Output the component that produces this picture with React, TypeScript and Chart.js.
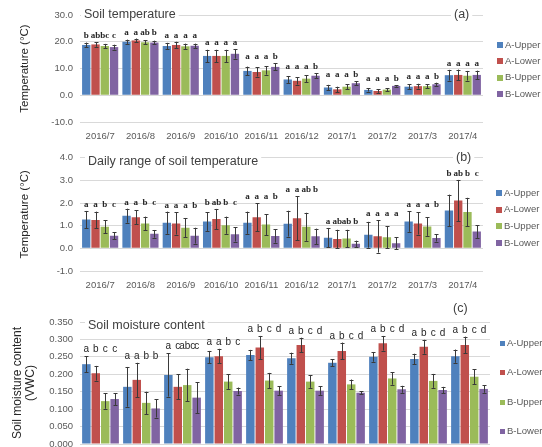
import React, { useEffect, useRef } from 'react';
import { Chart, registerables } from 'chart.js';
Chart.register(...registerables);

const categories = ['2016/7', '2016/8', '2016/9', '2016/10', '2016/11', '2016/12', '2017/1', '2017/2', '2017/3', '2017/4'];
const seriesNames = ['A-Upper', 'A-Lower', 'B-Upper', 'B-Lower'];
const seriesColors = ['#4F81BD', '#C0504D', '#9BBB59', '#8064A2'];

// (a) Soil temperature
const tempAUpper = [18.8, 20.0, 18.4, 14.7, 9.1, 5.9, 2.9, 2.0, 3.2, 7.5];
const tempALower = [19.0, 20.5, 18.8, 14.7, 8.7, 5.4, 2.2, 1.6, 3.4, 7.6];
const tempBUpper = [18.4, 19.8, 18.3, 14.7, 9.3, 6.2, 3.2, 2.1, 3.4, 7.3];
const tempBLower = [18.0, 19.7, 18.5, 15.5, 10.6, 7.3, 4.5, 3.5, 4.1, 7.6];
const tempErrAUpper = [0.9, 0.8, 1.2, 2.3, 1.6, 1.3, 1.0, 0.6, 0.9, 2.0];
const tempErrALower = [0.9, 0.7, 1.2, 2.3, 1.7, 1.4, 1.0, 0.7, 0.9, 2.0];
const tempErrBUpper = [0.8, 0.8, 1.0, 2.3, 1.6, 1.3, 1.0, 0.6, 0.8, 1.8];
const tempErrBLower = [0.9, 0.7, 0.8, 1.8, 1.3, 1.0, 0.7, 0.3, 0.6, 1.6];
const tempLetAUpper = ['b', 'a', 'a', 'a', 'a', 'a', 'a', 'a', 'a', 'a'];
const tempLetALower = ['ab', 'a', 'a', 'a', 'a', 'a', 'a', 'a', 'a', 'a'];
const tempLetBUpper = ['bc', 'ab', 'a', 'a', 'a', 'a', 'a', 'a', 'a', 'a'];
const tempLetBLower = ['c', 'b', 'a', 'a', 'b', 'b', 'b', 'b', 'b', 'a'];

// (b) Daily range of soil temperature
const rangeAUpper = [1.27, 1.44, 1.13, 1.18, 1.13, 1.09, 0.47, 0.60, 1.18, 1.67];
const rangeALower = [1.25, 1.37, 1.10, 1.29, 1.37, 1.33, 0.41, 0.53, 1.10, 2.11];
const rangeBUpper = [0.95, 1.10, 0.91, 1.02, 1.05, 0.95, 0.43, 0.49, 0.96, 1.60];
const rangeBLower = [0.56, 0.64, 0.56, 0.62, 0.55, 0.53, 0.20, 0.23, 0.46, 0.74];
const rangeErrAUpper = [0.38, 0.31, 0.49, 0.41, 0.49, 0.57, 0.43, 0.57, 0.45, 0.70];
const rangeErrALower = [0.37, 0.31, 0.49, 0.45, 0.62, 0.98, 0.41, 0.72, 0.49, 0.91];
const rangeErrBUpper = [0.29, 0.30, 0.43, 0.38, 0.46, 0.62, 0.39, 0.48, 0.41, 0.63];
const rangeErrBLower = [0.16, 0.17, 0.35, 0.32, 0.30, 0.34, 0.14, 0.26, 0.16, 0.28];
const rangeLetAUpper = ['a', 'a', 'a', 'b', 'a', 'a', 'a', 'a', 'a', 'b'];
const rangeLetALower = ['a', 'a', 'a', 'ab', 'a', 'a', 'ab', 'a', 'a', 'ab'];
const rangeLetBUpper = ['b', 'b', 'a', 'b', 'a', 'ab', 'ab', 'a', 'a', 'b'];
const rangeLetBLower = ['c', 'c', 'b', 'c', 'b', 'b', 'b', 'a', 'b', 'c'];

// (c) Soil moisture content
const moistAUpper = [0.229, 0.164, 0.198, 0.249, 0.255, 0.246, 0.233, 0.250, 0.244, 0.252];
const moistALower = [0.203, 0.184, 0.164, 0.252, 0.277, 0.284, 0.267, 0.289, 0.279, 0.284];
const moistBUpper = [0.123, 0.118, 0.169, 0.179, 0.182, 0.179, 0.171, 0.188, 0.181, 0.193];
const moistBLower = [0.129, 0.102, 0.133, 0.152, 0.153, 0.153, 0.147, 0.157, 0.155, 0.158];
const moistErrAUpper = [0.023, 0.057, 0.062, 0.018, 0.015, 0.016, 0.010, 0.014, 0.015, 0.019];
const moistErrALower = [0.021, 0.049, 0.036, 0.021, 0.033, 0.021, 0.024, 0.021, 0.020, 0.024];
const moistErrBUpper = [0.022, 0.032, 0.047, 0.021, 0.022, 0.018, 0.014, 0.018, 0.020, 0.022];
const moistErrBLower = [0.017, 0.026, 0.044, 0.010, 0.012, 0.012, 0.004, 0.010, 0.009, 0.011];
const moistLetAUpper = ['a', 'a', 'a', 'a', 'a', 'a', 'a', 'a', 'a', 'a'];
const moistLetALower = ['b', 'a', 'c', 'a', 'b', 'b', 'b', 'b', 'b', 'b'];
const moistLetBUpper = ['c', 'b', 'abc', 'b', 'c', 'c', 'c', 'c', 'c', 'c'];
const moistLetBLower = ['c', 'b', 'c', 'c', 'd', 'd', 'd', 'd', 'd', 'd'];

const FONT = "'Liberation Sans', Arial, sans-serif";
const TICK_COLOR = '#595959';

function makeDatasets(values: number[][], errors: number[][], letters: string[][]) {
  return seriesNames.map((name, i) => ({
    label: name,
    data: values[i],
    errors: errors[i],
    letters: letters[i],
    backgroundColor: seriesColors[i],
    borderWidth: 0,
    categoryPercentage: 0.92,
    barPercentage: 0.9,
  }));
}

const errorLetterPlugin = {
  id: 'errLetters',
  afterDatasetsDraw(chart: any, _args: any, opts: any) {
    const { ctx } = chart;
    const y = chart.scales.y;
    const n = chart.data.labels.length;
    const groupTop: number[] = new Array(n).fill(Infinity);
    ctx.save();
    ctx.strokeStyle = '#3a3a3a';
    ctx.lineWidth = 1;
    chart.data.datasets.forEach((ds: any, di: number) => {
      const meta = chart.getDatasetMeta(di);
      meta.data.forEach((bar: any, i: number) => {
        const v = ds.data[i];
        const e = ds.errors[i];
        const yt = y.getPixelForValue(v + e);
        const yb = y.getPixelForValue(v - e);
        const x = Math.round(bar.x) + 0.5;
        ctx.beginPath();
        ctx.moveTo(x, yt);
        ctx.lineTo(x, yb);
        ctx.moveTo(x - 2, Math.round(yt) + 0.5);
        ctx.lineTo(x + 2, Math.round(yt) + 0.5);
        ctx.moveTo(x - 2, Math.round(yb) + 0.5);
        ctx.lineTo(x + 2, Math.round(yb) + 0.5);
        ctx.stroke();
        groupTop[i] = Math.min(groupTop[i], yt);
      });
    });
    ctx.font = opts.font;
    ctx.fillStyle = opts.color;
    ctx.textAlign = 'center';
    ctx.textBaseline = 'alphabetic';
    chart.data.datasets.forEach((ds: any, di: number) => {
      const meta = chart.getDatasetMeta(di);
      meta.data.forEach((bar: any, i: number) => {
        ctx.fillText(ds.letters[i], bar.x, groupTop[i] - opts.gap);
      });
    });
    ctx.restore();
  },
};

const panelTextPlugin = {
  id: 'panelText',
  beforeDatasetsDraw(chart: any, _args: any, o: any) {
    const { ctx, chartArea } = chart;
    ctx.save();
    ctx.font = o.titleFont;
    ctx.textBaseline = 'middle';
    ctx.textAlign = 'left';
    const tx = chartArea.left + o.titleDx;
    const ty = chartArea.top + o.titleDy;
    const tw = ctx.measureText(o.title).width;
    ctx.fillStyle = '#ffffff';
    ctx.fillRect(tx - 3, ty - 8, tw + 6, 16);
    ctx.fillStyle = '#404040';
    ctx.fillText(o.title, tx, ty);
    const gx = o.tagX;
    const gy = chartArea.top + o.tagDy;
    const gw = ctx.measureText(o.tag).width;
    ctx.fillStyle = '#ffffff';
    ctx.fillRect(gx - 3, gy - 8, gw + 6, 16);
    ctx.fillStyle = '#404040';
    ctx.fillText(o.tag, gx, gy);
    ctx.restore();
  },
  afterDraw(chart: any, _args: any, o: any) {
    const { ctx } = chart;
    ctx.save();
    ctx.font = `9.5px ${FONT}`;
    ctx.textBaseline = 'middle';
    ctx.textAlign = 'left';
    chart.data.datasets.forEach((ds: any, i: number) => {
      const ly = o.legendY0 + i * o.legendGap;
      ctx.fillStyle = ds.backgroundColor;
      ctx.fillRect(o.legendX, Math.round(ly - o.legendBox / 2), o.legendBox, o.legendBox);
      ctx.fillStyle = TICK_COLOR;
      ctx.fillText(ds.label, o.legendX + o.legendBox + 2, ly);
    });
    ctx.restore();
  },
};

type PanelProps = {
  top: number;
  height: number;
  padTop: number;
  padRight: number;
  datasets: any[];
  yMin: number;
  yMax: number;
  yStep: number;
  decimals: number;
  yTitle: string | string[];
  yTitleSize: number;
  yTitleLH: number;
  yTitlePad: number;
  letterFont: string;
  panel: any;
};

function BarPanel(p: PanelProps) {
  const ref = useRef<HTMLCanvasElement>(null);
  useEffect(() => {
    const chart = new Chart(ref.current as HTMLCanvasElement, {
      type: 'bar',
      data: { labels: categories, datasets: p.datasets as any },
      options: {
        responsive: false,
        animation: false,
        layout: { padding: { top: p.padTop, right: p.padRight, left: 0, bottom: 0 } },
        plugins: {
          legend: { display: false },
          tooltip: { enabled: false },
          panelText: p.panel,
          errLetters: { font: p.letterFont, color: '#262626', gap: 4 },
        } as any,
        scales: {
          x: {
            grid: { display: false, drawTicks: false },
            border: { display: false },
            ticks: { color: TICK_COLOR, font: { size: 9.5, family: FONT }, padding: 9, maxRotation: 0, autoSkip: false },
            afterFit: (s: any) => { s.height = 23; },
          },
          y: {
            min: p.yMin,
            max: p.yMax,
            grid: { color: '#D9D9D9', drawTicks: false },
            border: { display: false },
            ticks: {
              stepSize: p.yStep,
              color: TICK_COLOR,
              font: { size: 9.5, family: FONT },
              padding: 7,
              callback: (v: any) => Number(v).toFixed(p.decimals),
            },
            title: {
              display: true,
              text: p.yTitle,
              color: '#262626',
              font: { size: p.yTitleSize, family: FONT, lineHeight: p.yTitleLH },
              padding: { top: p.yTitlePad, bottom: 0 },
            },
            afterFit: (s: any) => { s.width = 80; },
          },
        },
      } as any,
      plugins: [errorLetterPlugin, panelTextPlugin],
    });
    return () => chart.destroy();
  }, []);
  return (
    <canvas
      ref={ref}
      width={542}
      height={p.height}
      style={{ position: 'absolute', left: 0, top: p.top, display: 'block' }}
    />
  );
}

export default function App() {
  const serifLetters = `bold 9px 'Liberation Serif', 'Times New Roman', serif`;
  return (
    <div style={{ position: 'absolute', left: 0, top: 0, width: 542, height: 447, overflow: 'hidden', background: '#fff' }}>
      <BarPanel
        top={0}
        height={145}
        padTop={15}
        padRight={59}
        datasets={makeDatasets(
          [tempAUpper, tempALower, tempBUpper, tempBLower],
          [tempErrAUpper, tempErrALower, tempErrBUpper, tempErrBLower],
          [tempLetAUpper, tempLetALower, tempLetBUpper, tempLetBLower]
        )}
        yMin={-10}
        yMax={30}
        yStep={10}
        decimals={1}
        yTitle="Temperature (°C)"
        yTitleSize={11.5}
        yTitleLH={1.2}
        yTitlePad={18}
        letterFont={serifLetters}
        panel={{ title: 'Soil temperature', titleFont: `12.5px ${FONT}`, titleDx: 4, titleDy: 0, tag: '(a)', tagX: 454, tagDy: 0, legendX: 497, legendY0: 45, legendGap: 16.3, legendBox: 6 }}
      />
      <BarPanel
        top={145}
        height={149}
        padTop={7}
        padRight={59}
        datasets={makeDatasets(
          [rangeAUpper, rangeALower, rangeBUpper, rangeBLower],
          [rangeErrAUpper, rangeErrALower, rangeErrBUpper, rangeErrBLower],
          [rangeLetAUpper, rangeLetALower, rangeLetBUpper, rangeLetBLower]
        )}
        yMin={-1}
        yMax={4}
        yStep={1}
        decimals={1}
        yTitle="Temperature (°C)"
        yTitleSize={11.5}
        yTitleLH={1.2}
        yTitlePad={18}
        letterFont={serifLetters}
        panel={{ title: 'Daily range of soil temperature', titleFont: `12.5px ${FONT}`, titleDx: 8, titleDy: 4, tag: '(b)', tagX: 456, tagDy: 0, legendX: 496, legendY0: 48, legendGap: 16.7, legendBox: 6 }}
      />
      <BarPanel
        top={300}
        height={167}
        padTop={22}
        padRight={52}
        datasets={makeDatasets(
          [moistAUpper, moistALower, moistBUpper, moistBLower],
          [moistErrAUpper, moistErrALower, moistErrBUpper, moistErrBLower],
          [moistLetAUpper, moistLetALower, moistLetBUpper, moistLetBLower]
        )}
        yMin={0}
        yMax={0.35}
        yStep={0.05}
        decimals={3}
        yTitle={['Soil moisture content', '(VWC)']}
        yTitleSize={12}
        yTitleLH={1.08}
        yTitlePad={11.5}
        letterFont={`10px ${FONT}`}
        panel={{ title: 'Soil moisture content', titleFont: `12.5px ${FONT}`, titleDx: 8, titleDy: 4, tag: '(c)', tagX: 453, tagDy: -13, legendX: 500, legendY0: 43, legendGap: 29.6, legendBox: 5 }}
      />
    </div>
  );
}
